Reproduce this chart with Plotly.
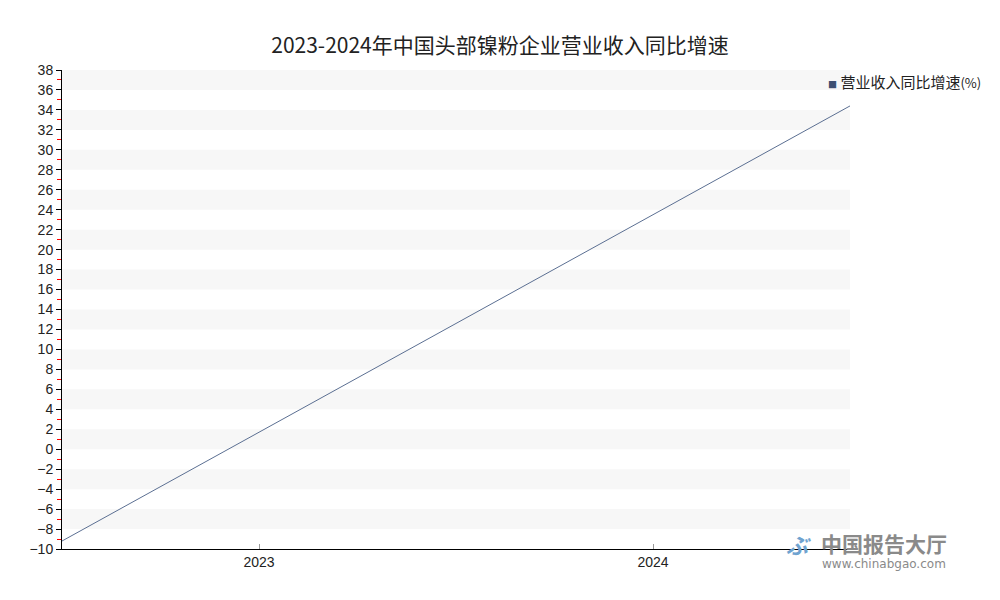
import plotly.graph_objects as go

# data
years = ['2023', '2024']
growth = [-9.2, 34.4]   # 营业收入同比增速 (%)
series_name = '营业收入同比增速'
series_unit = '(%)'
title = '2023-2024年中国头部镍粉企业营业收入同比增速'

y_min, y_max, y_step = -10, 38, 2

fig = go.Figure()

# line runs edge to edge, year labels sit in the middle of each band
pos = [i / (len(years) - 1) for i in range(len(years))]
label_pos = [(i + 0.5) / len(years) for i in range(len(years))]

fig.add_trace(go.Scatter(
    x=pos, y=growth, mode='lines', name=series_name + series_unit, showlegend=False,
    line=dict(color='#5b6f92', width=1), hoverinfo='y'
))

# alternating gray bands
shapes = []
v = y_max
while v - 2 >= y_min:
    shapes.append(dict(type='rect', xref='paper', yref='y', x0=0, x1=1,
                       y0=v - 2, y1=v, fillcolor='#f7f7f7',
                       line=dict(width=0), layer='below'))
    v -= 4

legend_text = ("<span style='font-size:9px;color:#3d4f72'>■</span> " + series_name
               + "<span style='font-size:13px'>" + series_unit + "</span>")

fig.update_layout(
    width=1000, height=600,
    plot_bgcolor='white', paper_bgcolor='white',
    font=dict(family='Noto Sans CJK SC', size=13, color='#222'),
    title=dict(text=title, x=0.492, xanchor='center', y=0.938, yanchor='middle',
               font=dict(size=21, color='#222')),
    margin=dict(l=54, r=158, t=62, b=59, autoexpand=False),
    shapes=shapes,
    showlegend=False,
    annotations=[
        dict(text=legend_text, xref='paper', yref='paper',
             x=0.969, y=0.975, xanchor='left', yanchor='middle', showarrow=False,
             font=dict(size=15, color='#222')),
        dict(text='<b>中国报告大厅</b>', xref='paper', yref='paper',
             x=1.043, y=0.012, xanchor='center', yanchor='middle', showarrow=False,
             font=dict(size=21, color='#8a8a8a')),
        dict(text='www.chinabgao.com', xref='paper', yref='paper',
             x=1.043, y=-0.031, xanchor='center', yanchor='middle', showarrow=False,
             font=dict(size=12, color='#8a8a8a', family='DejaVu Sans')),
        dict(text='<i><b>ぶ</b></i>', xref='paper', yref='paper',
             x=0.935, y=0.01, xanchor='center', yanchor='middle', showarrow=False,
             font=dict(size=22, color='#6fa3d0')),
    ],
)

fig.update_xaxes(
    range=[0, 1], tickvals=label_pos, ticktext=years, automargin=False,
    showgrid=False, zeroline=False,
    showline=True, linecolor='black', linewidth=1,
    ticks='inside', tickcolor='#999', ticklen=5,
    tickfont=dict(size=14, color='#222', family='Liberation Sans')
)
fig.update_yaxes(
    range=[y_min, y_max], dtick=y_step, tick0=y_min, automargin=False,
    showgrid=False, zeroline=False,
    showline=True, linecolor='black', linewidth=1,
    ticks='outside', tickcolor='black', ticklen=5,
    minor=dict(dtick=1, ticks='outside', tickcolor='red', ticklen=4, tickwidth=1),
    tickfont=dict(size=14, color='#222', family='Liberation Sans')
)

fig.write_html("out.html")
